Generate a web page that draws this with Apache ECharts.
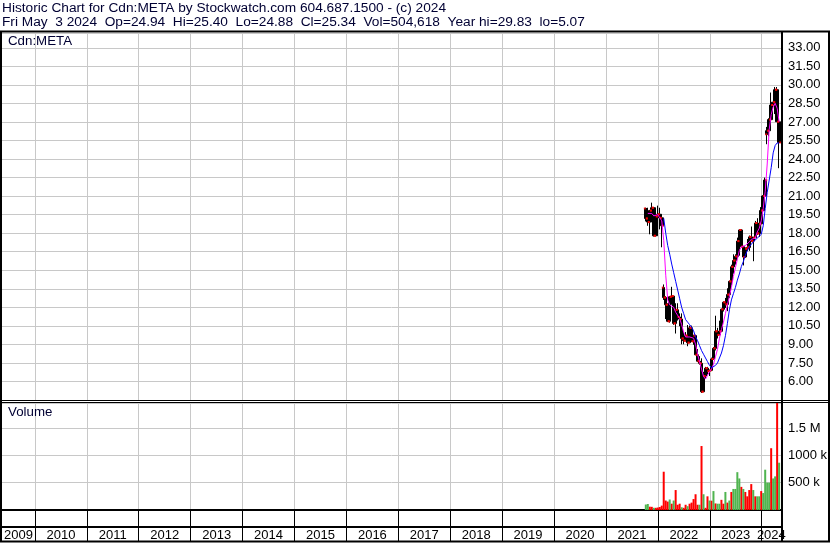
<!DOCTYPE html>
<html>
<head>
<meta charset="utf-8">
<script src="https://cdn.jsdelivr.net/npm/echarts@6/dist/echarts.min.js"></script>
<style>
  html, body { margin: 0; padding: 0; background: #fff; }
  #main { width: 830px; height: 543px; }
</style>
</head>
<body>
<div id="main"></div>
<script>
// fortnightly bars (Cdn:META, C$)
const dates = [
  '2021-10-08','2021-10-22','2021-11-05','2021-11-19','2021-12-03','2021-12-17','2021-12-31',
  '2022-01-14','2022-01-28','2022-02-11','2022-02-25','2022-03-11','2022-03-25','2022-04-08',
  '2022-04-22','2022-05-06','2022-05-20','2022-06-03','2022-06-17','2022-07-01','2022-07-15',
  '2022-07-29','2022-08-12','2022-08-26','2022-09-09','2022-09-23','2022-10-07','2022-10-21',
  '2022-11-04','2022-11-18','2022-12-02','2022-12-16','2022-12-30','2023-01-13','2023-01-27',
  '2023-02-10','2023-02-24','2023-03-10','2023-03-24','2023-04-07','2023-04-21','2023-05-05',
  '2023-05-19','2023-06-02','2023-06-16','2023-06-30','2023-07-14','2023-07-28','2023-08-11',
  '2023-08-25','2023-09-08','2023-09-22','2023-10-06','2023-10-20','2023-11-03','2023-11-17',
  '2023-12-01','2023-12-15','2023-12-29','2024-01-12','2024-01-26','2024-02-09','2024-02-23',
  '2024-03-08','2024-03-22','2024-04-05','2024-04-19','2024-05-03'
];
const opens = [
  20.00,19.19,18.90,19.83,20.06,17.79,19.36,19.53,19.24,13.60,12.79,12.21,10.87,12.85,
  12.91,10.70,11.80,11.22,11.05,9.48,9.30,9.71,9.14,10.34,9.25,9.71,8.16,7.64,
  7.47,5.17,6.44,7.07,6.84,6.90,7.82,8.68,10.06,9.77,10.06,11.84,12.41,12.24,
  13.03,14.10,15.28,15.79,16.12,17.36,18.26,16.91,16.07,16.74,16.85,17.70,17.36,17.64,
  18.82,17.98,18.76,19.83,21.01,26.00,26.29,27.19,28.37,28.60,29.61,27.02
];
const closes = [
  19.19,18.90,19.83,20.06,17.79,19.36,19.53,19.24,18.60,12.79,12.21,10.87,12.85,12.91,
  10.70,11.80,11.22,11.05,9.48,9.30,9.71,9.14,10.34,9.25,9.71,8.16,7.64,7.47,
  5.17,6.44,7.07,6.84,6.90,7.82,8.68,10.06,9.77,10.06,11.84,12.41,12.24,13.03,
  14.10,15.28,15.79,16.12,17.36,18.26,16.91,16.07,16.74,16.85,17.70,17.36,17.64,18.82,
  17.98,18.76,19.83,21.01,22.30,26.29,27.19,28.37,28.60,29.61,27.02,25.34
];
const lows = [
  18.95,18.60,17.91,19.36,17.73,17.75,19.19,18.31,16.86,12.60,11.05,10.81,10.76,12.21,
  10.58,9.88,10.93,10.47,9.01,9.01,9.24,8.85,9.14,9.20,8.97,8.16,7.59,7.36,
  5.07,5.15,6.21,6.55,6.44,6.88,7.76,8.51,9.48,9.77,10.00,11.66,11.95,11.69,
  12.75,13.76,14.72,15.45,15.90,16.18,16.85,15.39,16.01,16.57,16.57,17.30,15.73,17.64,
  17.87,17.70,18.71,19.27,20.56,25.20,25.84,26.97,27.25,27.64,27.02,23.26
];
const highs = [
  20.06,20.06,19.88,20.47,20.06,19.88,20.23,20.06,19.48,13.85,12.91,12.33,12.91,13.66,
  12.91,12.33,12.33,11.51,11.51,10.00,10.00,10.57,10.52,10.52,9.77,9.77,8.62,8.05,
  7.87,6.78,7.18,7.18,6.95,7.93,8.79,11.32,10.34,10.92,11.89,12.47,12.76,13.54,
  14.16,15.45,16.29,16.29,17.64,18.31,18.31,16.91,16.85,17.53,17.81,18.54,17.70,18.99,
  19.21,18.88,20.11,21.07,22.50,26.60,27.30,29.38,28.60,29.83,29.83,26.00
];
// magenta and blue average lines, read point by point
const maShort = [
  null,19.6,19.5,19.6,19.4,19.3,19.5,19.4,19.0,17.4,14.6,12.6,12.2,12.3,
  12.0,11.6,11.5,11.1,10.6,10.0,9.6,9.5,9.6,9.6,9.5,9.0,8.2,7.6,
  7.0,6.4,6.2,6.5,6.8,7.0,7.4,8.0,8.6,9.5,10.2,10.8,11.5,12.2,
  12.9,13.6,14.5,15.2,15.9,16.6,16.9,16.9,17.0,17.1,17.3,17.5,17.4,17.6,
  18.1,18.4,19.0,20.0,21.4,23.6,26.4,27.6,28.2,28.5,28.1,27.0
];
const maLong = [
  null,null,null,null,null,null,null,null,null,19.2,18.0,17.0,16.3,15.5,
  14.8,14.1,13.4,12.7,12.0,11.5,11.0,10.8,10.6,10.4,10.1,9.6,9.3,8.9,
  8.5,8.2,7.9,7.6,7.3,7.1,7.0,7.3,7.5,7.9,8.3,8.9,9.7,10.7,
  11.8,12.6,13.1,13.6,14.2,14.7,15.3,15.7,16.2,16.6,16.9,17.1,17.3,17.4,
  17.6,17.7,17.9,18.6,20.0,21.3,22.3,23.3,24.5,25.1,25.3,25.3
];
// volume in thousands of shares: up bars (green) and down bars (red)
const volUp = [
  100,110,null,null,40,null,null,null,null,null,null,null,192,null,
  173,null,null,null,50,null,null,70,null,null,null,null,null,96,
  null,288,null,null,173,null,346,null,115,115,null,null,330,null,
  173,null,385,385,692,577,null,385,null,null,null,null,365,null,
  250,250,null,310,737,500,500,null,577,615,null,865
];
const volDown = [
  null,null,60,58,null,40,45,55,80,700,173,154,null,115,
  null,365,96,115,null,40,96,null,115,135,200,288,96,null,
  1170,null,40,250,null,170,null,120,null,null,186,115,null,135,
  null,330,null,null,null,null,423,null,330,250,365,474,null,250,
  null,null,346,null,null,null,null,1130,null,null,2030,null
];
const yearBounds = [
  '2010-01-01','2011-01-01','2012-01-01','2013-01-01','2014-01-01','2015-01-01','2016-01-01',
  '2017-01-01','2018-01-01','2019-01-01','2020-01-01','2021-01-01','2022-01-01','2023-01-01','2024-01-01'
];
const xMin = '2009-05-14';
const xMax = '2024-05-16';

const ts = s => +echarts.time.parse(s);
const bounds = yearBounds.map(ts);
const edges = [ts(xMin)].concat(bounds, [ts(xMax)]);
const yearMids = [];
for (let k = 0; k < edges.length - 1; k++) yearMids.push((edges[k] + edges[k + 1]) / 2);
const xs = dates.map(ts);

const FONT = 'Liberation Sans, Arial, sans-serif';
const INK = '#000';
const GRID = '#c8c8c8';

const chart = echarts.init(document.getElementById('main'), null, { renderer: 'canvas' });

const dateAxis = (gridIndex, extra) => Object.assign({
  type: 'value', gridIndex, min: ts(xMin), max: ts(xMax), scale: true,
  axisLine: { show: false },
  axisTick: { show: false, customValues: bounds },
  axisLabel: { show: false },
  splitLine: { show: true, lineStyle: { color: GRID, width: 1 } }
}, extra);

const headStyle = size => ({ fontSize: size, fontWeight: 'normal', color: '#000033', fontFamily: FONT });

chart.setOption({
  animation: false,
  backgroundColor: '#fff',
  textStyle: { fontFamily: FONT },
  title: [
    { text: 'Historic Chart for Cdn:META by Stockwatch.com 604.687.1500 - (c) 2024', left: 2, top: 1, padding: 0,
      textStyle: headStyle(13.7) },
    { text: 'Fri May  3 2024  Op=24.94  Hi=25.40  Lo=24.88  Cl=25.34  Vol=504,618  Year hi=29.83  lo=5.07', left: 2, top: 15, padding: 0,
      textStyle: headStyle(13.7) },
    { text: 'Cdn:META', left: 8, top: 35, padding: 0, textStyle: headStyle(13.3) },
    { text: 'Volume', left: 8, top: 406, padding: 0, textStyle: headStyle(13.3) }
  ],
  grid: [
    { left: 2, top: 33, width: 779, height: 367 },
    { left: 2, top: 403, width: 779, height: 107 },
    { left: 2, top: 510, width: 779, height: 17 }
  ],
  xAxis: [
    dateAxis(0),
    dateAxis(1, { axisLine: { show: true, onZero: false, lineStyle: { color: INK, width: 2 } } }),
    dateAxis(2, {
      axisLine: { show: true, onZero: false, lineStyle: { color: INK, width: 2 } },
      axisTick: { show: true, customValues: bounds, length: 14, lineStyle: { color: INK, width: 1 } },
      axisLabel: {
        show: true, customValues: yearMids, margin: 2, color: INK, fontSize: 13, fontFamily: FONT,
        formatter: v => String(new Date(v).getFullYear())
      },
      splitLine: { show: true, lineStyle: { color: INK, width: 1 } }
    })
  ],
  yAxis: [
    {
      type: 'value', gridIndex: 0, position: 'right', min: 4.5, max: 34.2, interval: 1.5,
      axisLine: { show: false }, axisTick: { show: false },
      axisLabel: { margin: 7, color: INK, fontSize: 13, fontFamily: FONT, showMinLabel: false, showMaxLabel: false,
        formatter: v => v.toFixed(2) },
      splitLine: { lineStyle: { color: GRID, width: 1 } }
    },
    {
      type: 'value', gridIndex: 1, position: 'right', min: 0, max: 1957, interval: 500,
      axisLine: { show: false }, axisTick: { show: false },
      axisLabel: { margin: 7, color: INK, fontSize: 13, fontFamily: FONT, showMaxLabel: false,
        formatter: v => v === 0 ? '' : (v >= 1500 ? (v / 1000) + ' M' : v + ' k') },
      splitLine: { lineStyle: { color: GRID, width: 1 } }
    },
    { type: 'value', gridIndex: 2, show: false }
  ],
  series: [
    {
      type: 'candlestick', xAxisIndex: 0, yAxisIndex: 0, barWidth: 3,
      encode: { x: 0, y: [1, 2, 3, 4] },
      data: xs.map((x, i) => [x, opens[i], closes[i], lows[i], highs[i]]),
      itemStyle: { color: '#000', color0: '#000', borderColor: '#000', borderColor0: '#000', borderWidth: 1 }
    },
    {
      type: 'scatter', xAxisIndex: 0, yAxisIndex: 0, symbol: 'rect', symbolSize: [2, 2], symbolOffset: [1, 0],
      itemStyle: { color: '#ff0000' }, z: 3,
      data: xs.map((x, i) => [x, closes[i]])
    },
    {
      type: 'scatter', xAxisIndex: 0, yAxisIndex: 0, symbol: 'rect', symbolSize: [2, 2], symbolOffset: [-1, 0],
      itemStyle: { color: '#ff0000' }, z: 3,
      data: xs.map((x, i) => [x, opens[i]])
    },
    {
      type: 'line', xAxisIndex: 0, yAxisIndex: 0, showSymbol: false, z: 4,
      lineStyle: { color: '#ff00ff', width: 1 },
      data: xs.map((x, i) => [x, maShort[i]])
    },
    {
      type: 'line', xAxisIndex: 0, yAxisIndex: 0, showSymbol: false, z: 5,
      lineStyle: { color: '#0000ff', width: 1 },
      data: xs.map((x, i) => [x, maLong[i]])
    },
    {
      type: 'bar', xAxisIndex: 1, yAxisIndex: 1, barWidth: 2, barGap: '-100%',
      itemStyle: { color: '#ff0000' },
      data: xs.map((x, i) => [x, volDown[i]])
    },
    {
      type: 'bar', xAxisIndex: 1, yAxisIndex: 1, barWidth: 2, barGap: '-100%',
      itemStyle: { color: '#50b450' },
      data: xs.map((x, i) => [x, volUp[i]])
    }
  ],
  graphic: [
    { type: 'line', shape: { x1: 0, y1: 31.5, x2: 830, y2: 31.5 }, style: { stroke: INK, lineWidth: 2 }, z: 100 },
    { type: 'line', shape: { x1: 1, y1: 31, x2: 1, y2: 542 }, style: { stroke: INK, lineWidth: 2 }, z: 100 },
    { type: 'line', shape: { x1: 829, y1: 31, x2: 829, y2: 542 }, style: { stroke: INK, lineWidth: 2 }, z: 100 },
    { type: 'line', shape: { x1: 0, y1: 541.5, x2: 830, y2: 541.5 }, style: { stroke: INK, lineWidth: 2 }, z: 100 },
    { type: 'line', shape: { x1: 0, y1: 400.5, x2: 830, y2: 400.5 }, style: { stroke: INK, lineWidth: 1 }, z: 100 },
    { type: 'line', shape: { x1: 0, y1: 402.5, x2: 830, y2: 402.5 }, style: { stroke: INK, lineWidth: 1 }, z: 100 },
    { type: 'line', shape: { x1: 782, y1: 31, x2: 782, y2: 541 }, style: { stroke: INK, lineWidth: 2 }, z: 100 }
  ]
});
</script>
</body>
</html>
